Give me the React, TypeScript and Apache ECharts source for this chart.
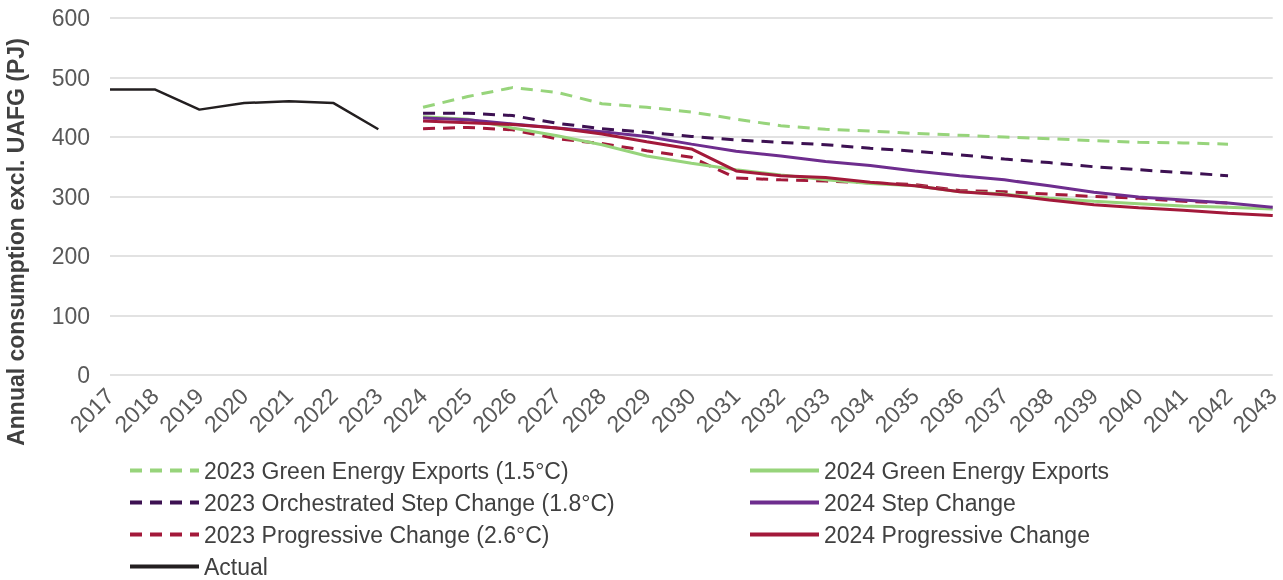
import React, { useEffect, useRef } from "react";
import * as echarts from "echarts";

const years = [
  "2017", "2018", "2019", "2020", "2021", "2022", "2023", "2024", "2025", "2026",
  "2027", "2028", "2029", "2030", "2031", "2032", "2033", "2034", "2035", "2036",
  "2037", "2038", "2039", "2040", "2041", "2042", "2043",
];

const actual = [480, 480, 446, 457, 460, 457, 413];
const gee2023 = [450, 468, 483, 475, 456, 450, 442, 430, 419, 413, 410, 406, 403, 400, 397, 394, 391, 390, 388];
const osc2023 = [440, 440, 436, 423, 414, 408, 401, 395, 391, 387, 381, 376, 370, 363, 357, 350, 345, 340, 335];
const pc2023 = [414, 416, 412, 397, 389, 377, 366, 331, 328, 326, 323, 320, 310, 308, 304, 300, 297, 292, 289];
const gee2024 = [434, 430, 415, 402, 387, 368, 356, 345, 336, 328, 322, 318, 308, 304, 297, 292, 288, 284, 282, 279];
const sc2024 = [432, 429, 422, 415, 409, 401, 388, 376, 368, 359, 352, 343, 335, 328, 318, 307, 299, 294, 289, 282];
const pc2024 = [427, 424, 421, 415, 405, 392, 380, 343, 335, 332, 324, 318, 308, 303, 294, 286, 281, 277, 272, 268];

const yTicks = { min: 0, max: 600, interval: 100 };

const yTitle = "Annual consumption excl. UAFG (PJ)";

const names = {
  gee23: "2023 Green Energy Exports (1.5°C)",
  osc23: "2023 Orchestrated Step Change (1.8°C)",
  pc23: "2023 Progressive Change (2.6°C)",
  actual: "Actual",
  gee24: "2024 Green Energy Exports",
  sc24: "2024 Step Change",
  pc24: "2024 Progressive Change",
};

const FONT = "'Liberation Sans', Arial, sans-serif";
const GREEN = "#97D47B";
const DPURPLE = "#3D1152";
const PURPLE = "#6E2D8E";
const RED = "#A3193A";
const BLACK = "#231F20";

const fromIndex = (arr: number[], start: number) => {
  const out: (number | null)[] = years.map(() => null);
  arr.forEach((v, i) => {
    out[start + i] = v;
  });
  return out;
};

export default function App() {
  const ref = useRef<HTMLDivElement>(null);
  useEffect(() => {
    if (!ref.current) return;
    const chart = echarts.init(ref.current, undefined, { renderer: "svg" });
    const dash = [12, 8];
    const mk = (name: string, data: (number | null)[], color: string, dashed: boolean, width = 3) => ({
      name,
      type: "line",
      data,
      symbol: "none",
      showSymbol: false,
      connectNulls: false,
      lineStyle: { color, width, type: dashed ? dash : "solid", cap: "butt" },
      itemStyle: { color },
      emphasis: { disabled: true },
    });
    const legendText = { fontFamily: FONT, fontSize: 23, color: "#404040", lineHeight: 23 };
    const legendBase = {
      orient: "vertical",
      top: 459,
      padding: 0,
      itemWidth: 69,
      itemHeight: 14,
      itemGap: 9,
      textStyle: legendText,
      itemStyle: { opacity: 0, borderWidth: 0 },
      lineStyle: { width: 4 },
      selectedMode: false,
    };
    chart.setOption({
      animation: false,
      grid: { left: 110, right: 8, top: 18, bottom: 205, containLabel: false },
      legend: [
        { ...legendBase, left: 128, data: [names.gee23, names.osc23, names.pc23, names.actual] },
        { ...legendBase, left: 748, data: [names.gee24, names.sc24, names.pc24] },
      ],
      xAxis: {
        type: "category",
        data: years,
        boundaryGap: false,
        axisLine: { show: false },
        axisTick: { show: false },
        axisLabel: {
          interval: 0,
          rotate: 45,
          margin: 17,
          fontFamily: FONT,
          fontSize: 23,
          color: "#595959",
        },
      },
      yAxis: {
        type: "value",
        min: yTicks.min,
        max: yTicks.max,
        interval: yTicks.interval,
        axisLine: { show: false },
        axisTick: { show: false },
        axisLabel: { margin: 20, fontFamily: FONT, fontSize: 23, color: "#595959" },
        splitLine: { lineStyle: { color: "#D9D9D9", width: 1.5 } },
      },
      graphic: [
        {
          type: "text",
          x: 16,
          y: 242,
          rotation: Math.PI / 2,
          style: {
            text: yTitle,
            fontFamily: FONT,
            fontSize: 23,
            fontWeight: "bold",
            fill: "#404040",
            align: "center",
            verticalAlign: "middle",
          },
        },
      ],
      series: [
        mk(names.gee23, fromIndex(gee2023, 7), GREEN, true),
        mk(names.osc23, fromIndex(osc2023, 7), DPURPLE, true),
        mk(names.pc23, fromIndex(pc2023, 7), RED, true),
        mk(names.actual, fromIndex(actual, 0), BLACK, false, 2.5),
        mk(names.gee24, fromIndex(gee2024, 7), GREEN, false),
        mk(names.sc24, fromIndex(sc2024, 7), PURPLE, false),
        mk(names.pc24, fromIndex(pc2024, 7), RED, false),
      ],
    });
    return () => chart.dispose();
  }, []);
  return (
    <div
      ref={ref}
      style={{ position: "fixed", left: 0, top: 0, width: 1283, height: 580 }}
    />
  );
}
